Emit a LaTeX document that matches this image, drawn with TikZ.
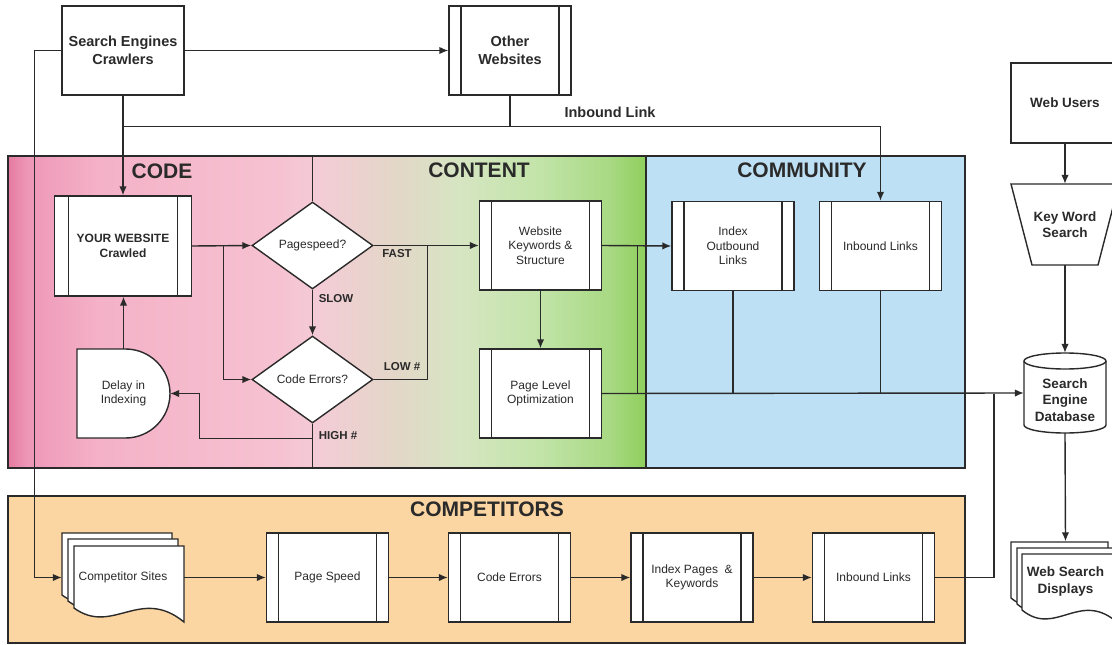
\documentclass[tikz,border=0pt]{standalone}
\usepackage{fontspec}
\setmainfont{Liberation Sans}
\usepackage{tikz}
\usetikzlibrary{arrows.meta,shapes.geometric}

\definecolor{ink}{HTML}{2A2A2A}
\definecolor{commblue}{HTML}{BEE0F4}
\definecolor{compbeige}{HTML}{FCD6A2}
\definecolor{pkA}{HTML}{E47A9F}
\definecolor{pkB}{HTML}{EE97B7}
\definecolor{pkC}{HTML}{F4B1C7}
\definecolor{pkD}{HTML}{F6C2D2}
\definecolor{pkE}{HTML}{F3CCD6}
\definecolor{beA}{HTML}{E4D6C8}
\definecolor{grA}{HTML}{D6E5C2}
\definecolor{grB}{HTML}{C2E4A8}
\definecolor{grC}{HTML}{A8D983}
\definecolor{grD}{HTML}{8FCF5C}

\pgfdeclarehorizontalshading{codecontent}{100bp}{color(0bp)=(pkA); color(25bp)=(pkA);
  color(26.5bp)=(pkB); color(32bp)=(pkC); color(46.3bp)=(pkD); color(49.5bp)=(pkE);
  color(55bp)=(beA); color(60.4bp)=(grA); color(66.7bp)=(grB); color(72.2bp)=(grC);
  color(75bp)=(grD); color(100bp)=(grD)}

\newcommand{\docsheet}[4]{%
  \draw[line,fill=white] (#1,#2) -- ({#1+#3},#2) -- ({#1+#3},{#2+#4})
    .. controls ({#1+0.6*#3},{#2+#4-36}) and ({#1+0.35*#3},{#2+#4+14}) .. (#1,{#2+#4-14}) -- cycle;}

\begin{document}
\begin{tikzpicture}[x=1pt,y=-1pt,
  line/.style={draw=ink,line width=1.4pt},
  flow/.style={line,-{Latex[length=9pt,width=7.5pt]}},
  plain/.style={line,fill=white,rectangle,minimum width=122pt,minimum height=89pt,inner sep=0pt,align=center},
  proc/.style={plain,path picture={\draw[line]
    ([xshift=#1]path picture bounding box.north west) -- ([xshift=#1]path picture bounding box.south west)
    ([xshift=-#1]path picture bounding box.north east) -- ([xshift=-#1]path picture bounding box.south east);}},
  proc/.default=12pt,
  decision/.style={line,fill=white,diamond,minimum width=121pt,minimum height=87pt,inner sep=0pt},
  hole/.style={inner sep=0pt,align=center},
  title/.style={font=\fontsize{21}{21}\selectfont\bfseries,text=ink},
  tag/.style={font=\fontsize{11.5}{12}\selectfont\bfseries,text=ink},
  txt/.style={font=\fontsize{12}{14.5}\selectfont,text=ink},
  head/.style={font=\fontsize{14.5}{17.5}\selectfont\bfseries,text=ink},
  side/.style={font=\fontsize{13.5}{16.5}\selectfont\bfseries,text=ink}]

\useasboundingbox[fill=white] (0,0) rectangle (1112,645);

\draw[line,shading=codecontent] (8,156) rectangle (646,468);
\draw[line,fill=commblue] (646,156) rectangle (965,468);
\draw[line,fill=compbeige] (8,496) rectangle (965,643);

\node[title] (codet) at (162,171) {CODE};
\node[title] (contentt) at (479,170) {CONTENT};
\node[title] (communityt) at (802,170) {COMMUNITY};
\node[title] (competitorst) at (487,509) {COMPETITORS};

\node[plain,head] (crawl) at (123,50.5) {Search Engines\\Crawlers};
\node[proc,head] (other) at (510,50.5) {Other\\Websites};
\node[head] (inlink) at (610,112) {Inbound Link};
\node[plain,side,minimum width=108pt,minimum height=80pt] (users) at (1065,103) {Web Users};

\node[proc=14pt,txt,font=\fontsize{12}{14.5}\selectfont\bfseries,minimum width=137pt,minimum height=100pt] (site) at (123,246) {YOUR WEBSITE\\Crawled};
\node[decision,txt] (speed) at (312.5,245.5) {Pagespeed?};
\node[decision,txt] (errors) at (312.5,379.5) {Code Errors?};
\coordinate (divtop) at (312.5,156);
\coordinate (divbot) at (312.5,468);

\draw[line,fill=white] (77,349) -- (125.5,349) arc[start angle=90,end angle=-90,radius=44.5pt] -- (77,438) -- cycle;
\node[hole,txt,minimum width=93pt,minimum height=89pt] (delay) at (123.5,393.5) {Delay in\\Indexing};

\node[proc,txt] (structure) at (540.5,245.5) {Website\\Keywords \&\\Structure};
\node[proc,txt] (pagelevel) at (540.5,393.5) {Page Level\\Optimization};
\node[proc,txt] (outbound) at (733,246) {Index\\Outbound\\Links};
\node[proc,txt] (inbound) at (880.5,246) {Inbound Links};

\node[tag] (fast) at (397,254) {FAST};
\node[tag] (slow) at (336,299) {SLOW};
\node[tag] (low) at (402,367) {LOW \#};
\node[tag] (high) at (338,436) {HIGH \#};

\docsheet{62}{533}{110}{76}
\docsheet{68}{539}{110}{76}
\docsheet{74}{546}{110}{76}
\node[hole,txt,minimum width=122pt,minimum height=89pt] (rivals) at (123,577.5) {Competitor Sites};
\node[proc,txt] (cspeed) at (327.5,577.5) {Page Speed};
\node[proc,txt] (cerrors) at (509.5,577.5) {Code Errors};
\node[proc,txt] (cindex) at (692,577.5) {Index Pages \ \&\\Keywords};
\node[proc,txt] (clinks) at (873.5,577.5) {Inbound Links};
\coordinate (dbjoin) at (994,393.5);

\draw[line,fill=white] (1011,184) -- (1119,184) -- (1098,265) -- (1032,265) -- cycle;
\node[hole,side,minimum width=108pt,minimum height=81pt] (kws) at (1065,224.5) {Key Word\\Search};

\draw[line,fill=white] (1024,361) -- (1024,425)
  arc[start angle=180,end angle=360,x radius=41pt,y radius=8pt] -- (1106,361)
  arc[start angle=0,end angle=180,x radius=41pt,y radius=8pt] -- cycle;
\draw[line] (1106,361) arc[start angle=0,end angle=-180,x radius=41pt,y radius=8pt];
\node[hole,minimum width=82pt,minimum height=80pt] (db) at (1065,393) {};
\node[side,align=center] (dbtext) at (1065,400) {Search\\Engine\\Database};

\docsheet{1011}{542}{97}{70}
\docsheet{1017}{548}{97}{70}
\docsheet{1022}{554}{97}{70}
\node[hole,side,minimum width=109pt,minimum height=80pt] (wsd) at (1065.5,581.5) {Web Search\\Displays};

\draw[flow] (crawl.east) -- (other.west);
\draw[flow] (crawl.west) -- ++(-27,0) |- (rivals.west);
\draw[flow] (crawl.south) -- (crawl.south |- site.north);
\draw[flow] (crawl.south) -- ++(0,31) -| (inbound.north);
\draw[line] (other.south) -- ++(0,31);

\draw[flow] (site.east) -- (speed.west);
\draw[flow] ([xshift=31pt]site.east) |- (errors.west);
\draw[flow] (speed.south) -- (errors.north);
\draw[flow] (speed.east) -- (structure.west);
\draw[line] (errors.east) -| ([xshift=54pt]speed.east);
\draw[flow] (errors.south) -- ++(0,15) -| ([xshift=29pt]delay.east) -- (delay.east);
\draw[line] (divtop) -- (speed.north);
\draw[line] (errors.south) -- (divbot);
\draw[flow] (delay.north) -- (delay.north |- site.south);

\draw[flow] (structure.south) -- (pagelevel.north);
\draw[flow] (structure.east) -- (outbound.west);
\draw[line] ([xshift=35pt]structure.east) -- ([xshift=35pt]structure.east |- pagelevel.east);
\draw[flow] (pagelevel.east) -- (db.west);
\draw[line] (outbound.south) -- (outbound.south |- pagelevel.east);
\draw[line] (inbound.south) -- (inbound.south |- pagelevel.east);

\draw[flow] (rivals.east) -- (cspeed.west);
\draw[flow] (cspeed.east) -- (cerrors.west);
\draw[flow] (cerrors.east) -- (cindex.west);
\draw[flow] (cindex.east) -- (clinks.west);
\draw[line] (clinks.east) -| (dbjoin);

\draw[flow] (users.south) -- (kws.north);
\draw[flow] (kws.south) -- (db.north);
\draw[flow] (db.south) -- (wsd.north);
\end{tikzpicture}
\end{document}
